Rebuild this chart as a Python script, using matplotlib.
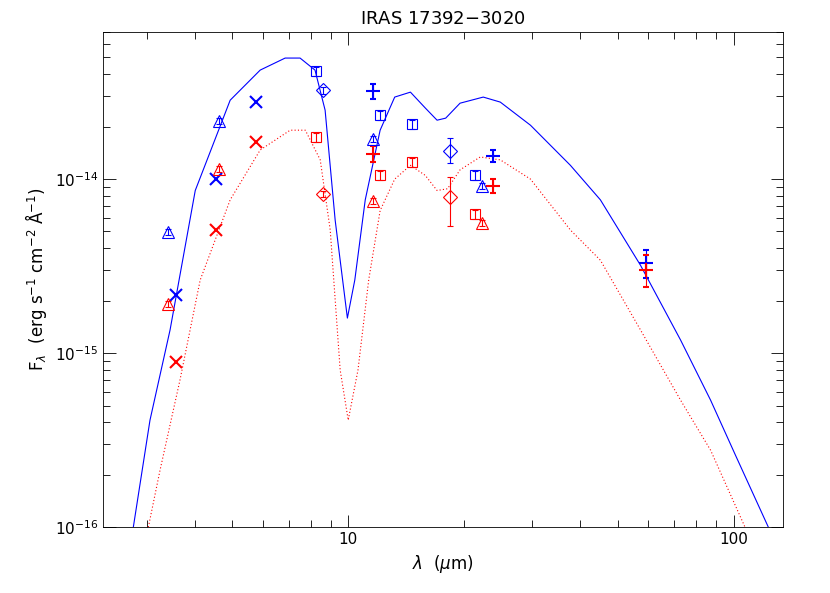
import numpy as np
import matplotlib
matplotlib.use("Agg")
import matplotlib.pyplot as plt
from matplotlib.ticker import LogLocator, NullFormatter, FixedLocator, FixedFormatter

# model curves
blue_wl = [2.77, 3.06, 3.45, 4.01, 4.94, 5.91, 6.86, 7.5, 8.2, 8.71, 9.25, 9.95, 10.4,
           11.07, 12.1, 13.2, 14.5, 15.85, 17.0, 17.9, 19.5, 22.4, 24.8, 29.7, 37.7,
           45.1, 57.3, 72.8, 87.1, 101, 123]
blue_fl = [1e-16, 4.12e-16, 1.36e-15, 8.6e-15, 2.84e-14, 4.23e-14, 4.96e-14, 4.96e-14,
           4.23e-14, 2.49e-14, 5.8e-15, 1.59e-15, 2.63e-15, 7.6e-15, 1.91e-14, 2.96e-14,
           3.16e-14, 2.56e-14, 2.18e-14, 2.24e-14, 2.73e-14, 2.96e-14, 2.77e-14, 2.04e-14,
           1.2e-14, 7.6e-15, 3.2e-15, 1.19e-15, 5.37e-16, 2.6e-16, 1e-16]
red_wl = [3.03, 3.25, 3.66, 4.13, 4.94, 5.91, 7.07, 7.74, 8.46, 8.98, 9.53, 10.0, 10.6,
          11.3, 12.1, 13.2, 14.5, 15.85, 17.0, 18.1, 19.5, 22.0, 24.8, 29.7, 37.7, 45.1,
          57.3, 72.8, 87.1, 107]
red_fl = [1e-16, 2.13e-16, 7.0e-16, 2.63e-15, 7.6e-15, 1.47e-14, 1.91e-14, 1.91e-14,
          1.29e-14, 5.1e-15, 8.0e-16, 4.12e-16, 8.0e-16, 2.63e-15, 6.6e-15, 1e-14, 1.2e-14,
          1.05e-14, 8.6e-15, 8.8e-15, 1.13e-14, 1.34e-14, 1.29e-14, 1e-14, 5.1e-15,
          3.42e-15, 1.36e-15, 5.37e-16, 2.77e-16, 1e-16]

# photometry
tri_wl = [3.41, 4.62, 11.6, 22.3]
tri_blue = [4.96e-15, 2.15e-14, 1.70e-14, 9.1e-15]
tri_red = [1.91e-15, 1.14e-14, 7.5e-15, 5.6e-15]
x_wl = [3.57, 4.54, 5.77]
x_blue = [2.16e-15, 1.0e-14, 2.77e-14]
x_red = [8.9e-16, 5.1e-15, 1.63e-14]
sq_wl = [8.26, 12.1, 14.6, 21.3]
sq_blue = [4.18e-14, 2.33e-14, 2.07e-14, 1.05e-14]
sq_red = [1.74e-14, 1.05e-14, 1.25e-14, 6.3e-15]
dia_wl = [8.6, 18.4]
dia_blue = [3.25e-14, 1.45e-14]
dia_blue_lo = [3.1e-14, 1.24e-14]
dia_blue_hi = [3.4e-14, 1.72e-14]
dia_red = [8.2e-15, 7.9e-15]
dia_red_lo = [7.9e-15, 5.4e-15]
dia_red_hi = [8.5e-15, 1.03e-14]
pl_wl = [11.6, 23.8, 59.4]
pl_blue = [3.2e-14, 1.36e-14, 3.29e-15]
pl_blue_lo = [2.9e-14, 1.25e-14, 2.7e-15]
pl_blue_hi = [3.5e-14, 1.47e-14, 3.9e-15]
pl_red = [1.39e-14, 9.1e-15, 3.0e-15]
pl_red_lo = [1.25e-14, 8.3e-15, 2.39e-15]
pl_red_hi = [1.55e-14, 1.0e-14, 3.66e-15]

plt.rcParams["font.family"] = "DejaVu Sans"
fig = plt.figure(figsize=(8.3, 5.93), dpi=100)
ax = fig.add_axes([0.124, 0.111, 0.819, 0.835])

ax.plot(blue_wl, blue_fl, color="blue", lw=0.8)
ax.plot(red_wl, red_fl, color="red", lw=0.8, ls=(0, (1, 2)))


def err(y, lo, hi):
    y = np.array(y)
    return [y - np.array(lo), np.array(hi) - y]


for col, tri, xx, sq, dia, dlo, dhi, pl, plo, phi in [
        ("blue", tri_blue, x_blue, sq_blue, dia_blue, dia_blue_lo, dia_blue_hi,
         pl_blue, pl_blue_lo, pl_blue_hi),
        ("red", tri_red, x_red, sq_red, dia_red, dia_red_lo, dia_red_hi,
         pl_red, pl_red_lo, pl_red_hi)]:
    ax.errorbar(tri_wl, tri, yerr=np.array(tri) * 0.04, fmt="^", mfc="none", mec=col,
                ecolor=col, ms=8, mew=0.8, elinewidth=0.8, capsize=2)
    ax.plot(x_wl, xx, "x", color=col, ms=8, mew=1.5)
    ax.errorbar(sq_wl, sq, yerr=np.array(sq) * 0.06, fmt="s", mfc="none", mec=col,
                ecolor=col, ms=7, mew=0.8, elinewidth=0.8, capsize=2)
    ax.errorbar(dia_wl, dia, yerr=err(dia, dlo, dhi), fmt="D", mfc="none", mec=col,
                ecolor=col, ms=7, mew=0.8, elinewidth=0.8, capsize=2)
    ax.errorbar(pl_wl, pl, yerr=err(pl, plo, phi), fmt="+", color=col,
                ms=10, mew=1.5, elinewidth=0.8, capsize=2)

ax.set_xscale("log")
ax.set_yscale("log")
ax.set_xlim(2.31, 134)
ax.set_ylim(1e-16, 7e-14)

ax.yaxis.set_major_locator(FixedLocator([1e-16, 1e-15, 1e-14]))
ax.yaxis.set_major_formatter(FixedFormatter([r"10$^{-16}$", r"10$^{-15}$", r"10$^{-14}$"]))
ax.yaxis.set_minor_locator(LogLocator(base=10, subs=np.arange(2, 10)))
ax.yaxis.set_minor_formatter(NullFormatter())
ax.xaxis.set_major_locator(FixedLocator([10, 100]))
ax.xaxis.set_major_formatter(FixedFormatter(["10", "100"]))
ax.xaxis.set_minor_locator(LogLocator(base=10, subs=np.arange(2, 10)))
ax.xaxis.set_minor_formatter(NullFormatter())
ax.tick_params(which="both", direction="in", top=True, right=True, labelsize=11, width=0.6)
ax.tick_params(which="major", length=9)
ax.tick_params(which="minor", length=5)
for s in ax.spines.values():
    s.set_linewidth(0.6)

ax.set_title("IRAS 17392$-$3020", fontsize=13)
ax.set_xlabel(r"$\lambda$  ($\mu$m)", fontsize=12)
ax.set_ylabel(r"F$_\lambda$  (erg s$^{-1}$ cm$^{-2}$ Å$^{-1}$)", fontsize=12)

fig.savefig("out.png", dpi=100)
